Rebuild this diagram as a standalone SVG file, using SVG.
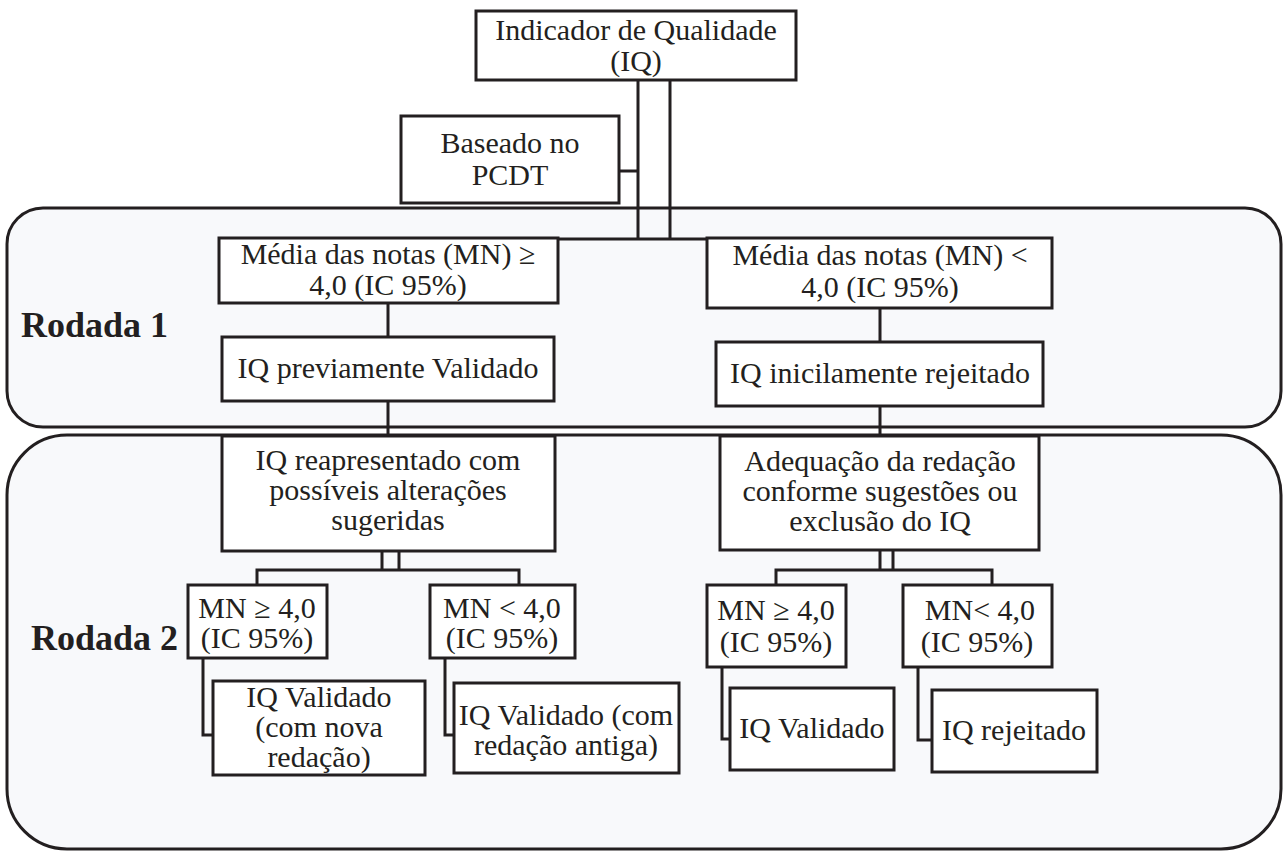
<svg xmlns="http://www.w3.org/2000/svg" width="1283" height="851" viewBox="0 0 1283 851">
<style>
.panel{fill:#f8f9fb;stroke:#231f20;stroke-width:3}
.box{fill:#ffffff;stroke:#231f20;stroke-width:3}
.t{font-family:"Liberation Serif","Times New Roman",serif;font-size:30px;fill:#231f20;text-anchor:middle}
.lbl{font-family:"Liberation Serif","Times New Roman",serif;font-size:36px;font-weight:bold;fill:#231f20}
.c{fill:none;stroke:#231f20;stroke-width:3}
</style>
<rect width="1283" height="851" fill="#ffffff"/>
<g id="rodada1">
<rect class="panel" x="7" y="208" width="1274" height="219" rx="36" ry="36"/>
<text class="lbl" x="21" y="337">Rodada 1</text>
</g>
<g id="rodada2">
<rect class="panel" x="7" y="435" width="1274" height="414" rx="60" ry="60"/>
<text class="lbl" x="31" y="650">Rodada 2</text>
</g>
<g id="connectors">
<path class="c" d="M638 80V239M670 80V239M558 239H707"/>
<path class="c" d="M619 171H638"/>
<path class="c" d="M388 303V337M388 401V436"/>
<path class="c" d="M880 308V342M880 406V436"/>
<path class="c" d="M382 551V570M399 551V570M257 585V570H519V585"/>
<path class="c" d="M203 658V735H213M445 658V735H454"/>
<path class="c" d="M880 550V570M893 550V570M776 585V570H992V585"/>
<path class="c" d="M722 667V739H730M918 667V740H932"/>
</g>
<g id="n-iq">
<rect class="box" x="476" y="11" width="320" height="69"/>
<text class="t" x="636" y="40">Indicador de Qualidade</text>
<text class="t" x="636" y="71">(IQ)</text>
</g>
<g id="n-pcdt">
<rect class="box" x="401" y="116" width="218" height="87"/>
<text class="t" x="510" y="153">Baseado no</text>
<text class="t" x="510" y="185">PCDT</text>
</g>
<g id="n-mn-ge">
<rect class="box" x="219" y="238" width="339" height="65"/>
<text class="t" x="388" y="264">Média das notas (MN) ≥</text>
<text class="t" x="388" y="295">4,0 (IC 95%)</text>
</g>
<g id="n-mn-lt">
<rect class="box" x="707" y="238" width="345" height="70"/>
<text class="t" x="880" y="265">Média das notas (MN) &lt;</text>
<text class="t" x="880" y="297">4,0 (IC 95%)</text>
</g>
<g id="n-prev">
<rect class="box" x="222" y="337" width="332" height="64"/>
<text class="t" x="388" y="378">IQ previamente Validado</text>
</g>
<g id="n-inic">
<rect class="box" x="716" y="342" width="327" height="64"/>
<text class="t" x="880" y="383">IQ inicilamente rejeitado</text>
</g>
<g id="n-reap">
<rect class="box" x="222" y="436" width="333" height="115"/>
<text class="t" x="388" y="470">IQ reapresentado com</text>
<text class="t" x="388" y="500">possíveis alterações</text>
<text class="t" x="388" y="530">sugeridas</text>
</g>
<g id="n-adeq">
<rect class="box" x="720" y="436" width="319" height="114"/>
<text class="t" x="880" y="471">Adequação da redação</text>
<text class="t" x="880" y="501">conforme sugestões ou</text>
<text class="t" x="880" y="531">exclusão do IQ</text>
</g>
<g id="n-l-ge">
<rect class="box" x="188" y="585" width="139" height="73"/>
<text class="t" x="257" y="618">MN ≥ 4,0</text>
<text class="t" x="257" y="648">(IC 95%)</text>
</g>
<g id="n-l-lt">
<rect class="box" x="430" y="585" width="145" height="73"/>
<text class="t" x="502" y="618">MN &lt; 4,0</text>
<text class="t" x="502" y="648">(IC 95%)</text>
</g>
<g id="n-l-val">
<rect class="box" x="213" y="681" width="212" height="94"/>
<text class="t" x="319" y="707">IQ Validado</text>
<text class="t" x="319" y="737">(com nova</text>
<text class="t" x="319" y="767">redação)</text>
</g>
<g id="n-l-ant">
<rect class="box" x="454" y="683" width="225" height="90"/>
<text class="t" x="566" y="725">IQ Validado (com</text>
<text class="t" x="566" y="755">redação antiga)</text>
</g>
<g id="n-r-ge">
<rect class="box" x="707" y="585" width="139" height="82"/>
<text class="t" x="776" y="620">MN ≥ 4,0</text>
<text class="t" x="776" y="652">(IC 95%)</text>
</g>
<g id="n-r-lt">
<rect class="box" x="903" y="585" width="149" height="82"/>
<text class="t" x="980" y="620">MN&lt; 4,0</text>
<text class="t" x="977" y="652">(IC 95%)</text>
</g>
<g id="n-r-val">
<rect class="box" x="730" y="688" width="164" height="82"/>
<text class="t" x="812" y="738">IQ Validado</text>
</g>
<g id="n-r-rej">
<rect class="box" x="932" y="690" width="165" height="82"/>
<text class="t" x="1014" y="740">IQ rejeitado</text>
</g>
</svg>
